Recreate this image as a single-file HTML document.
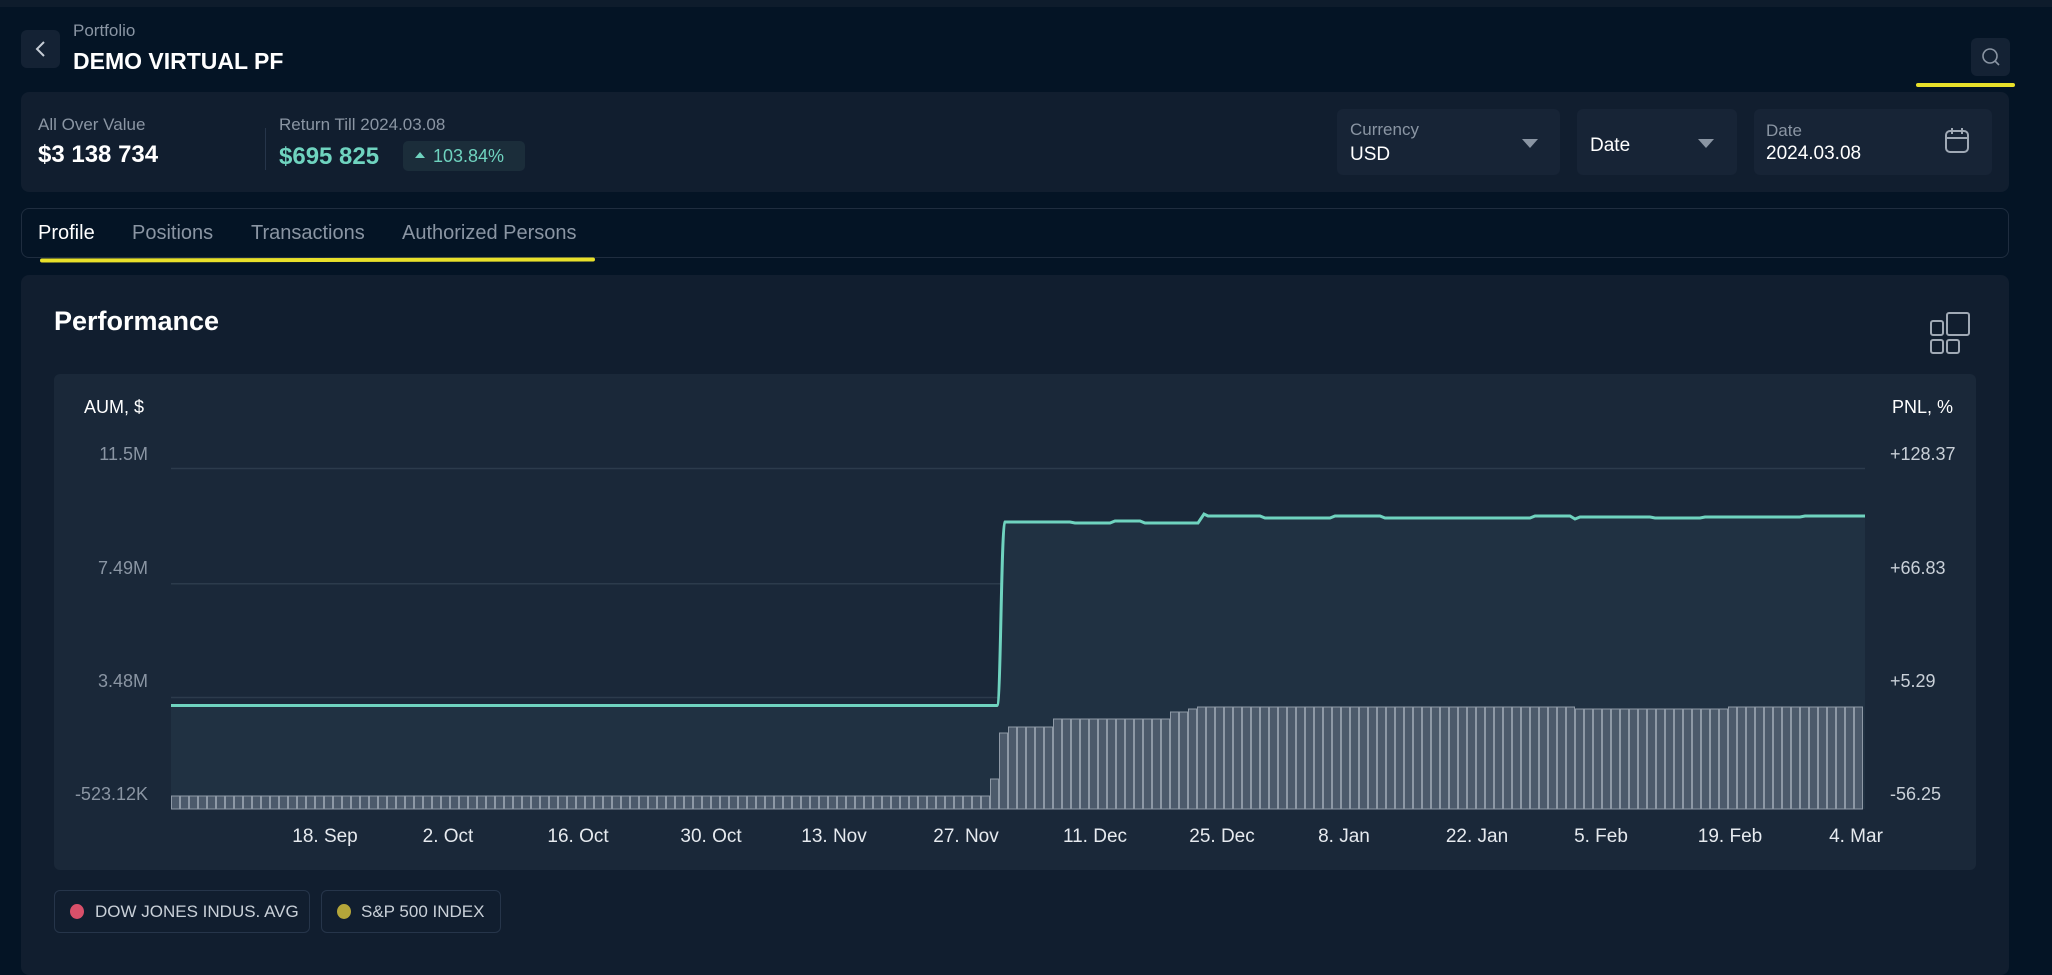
<!DOCTYPE html>
<html><head><meta charset="utf-8"><style>
*{margin:0;padding:0;box-sizing:border-box}
body{width:2052px;height:948px;background:#041425;font-family:"Liberation Sans",sans-serif;position:relative;overflow:hidden;color:#fff}
.a{position:absolute}
.g{color:#8a95a3}
.box{background:#111e2f;border-radius:8px}
.inp{background:#172436;border-radius:6px}
</style></head><body>
<div class="a" style="left:0;top:0;width:2052px;height:7px;background:#0e1c2c"></div>
<div class="a" style="left:21px;top:30px;width:39px;height:38px;background:#142234;border-radius:6px"></div>
<svg class="a" style="left:21px;top:30px" width="39" height="38"><path d="M23 12 L16 19 L23 26" stroke="#c5ccd5" stroke-width="2" fill="none"/></svg>
<div class="a g" style="left:73px;top:21px;font-size:17px">Portfolio</div>
<div class="a" style="left:73px;top:48px;font-size:23px;font-weight:bold">DEMO VIRTUAL PF</div>
<div class="a" style="left:1971px;top:38px;width:39px;height:38px;background:#142234;border-radius:6px"></div>
<svg class="a" style="left:1971px;top:38px" width="39" height="38"><circle cx="19" cy="18" r="7" stroke="#8a95a3" stroke-width="1.6" fill="none"/><path d="M24 23 L28 27" stroke="#8a95a3" stroke-width="1.6"/></svg>
<div class="a" style="left:1916px;top:83px;width:99px;height:4px;background:#e8e02a;border-radius:2px"></div>

<div class="a box" style="left:21px;top:92px;width:1988px;height:100px"></div>
<div class="a g" style="left:38px;top:115px;font-size:17px">All Over Value</div>
<div class="a" style="left:38px;top:141px;font-size:24px;font-weight:bold">$3 138 734</div>
<div class="a" style="left:265px;top:128px;width:1px;height:42px;background:#26354a"></div>
<div class="a g" style="left:279px;top:115px;font-size:17px">Return Till 2024.03.08</div>
<div class="a" style="left:279px;top:143px;font-size:24px;font-weight:bold;color:#6fd3bf">$695 825</div>
<div class="a" style="left:403px;top:141px;width:122px;height:30px;background:#1b2d3a;border-radius:5px;color:#6fd3bf;font-size:18px;padding:5px 0 0 30px">103.84%</div>
<div class="a" style="left:415px;top:152px;width:0;height:0;border-left:5px solid transparent;border-right:5px solid transparent;border-bottom:6px solid #6fd3bf"></div>

<div class="a inp" style="left:1337px;top:109px;width:223px;height:66px"></div>
<div class="a g" style="left:1350px;top:120px;font-size:17px">Currency</div>
<div class="a" style="left:1350px;top:144px;font-size:19px">USD</div>
<div class="a" style="left:1522px;top:139px;border-left:8px solid transparent;border-right:8px solid transparent;border-top:9px solid #8a95a3"></div>
<div class="a inp" style="left:1577px;top:109px;width:160px;height:66px"></div>
<div class="a" style="left:1590px;top:135px;font-size:19px">Date</div>
<div class="a" style="left:1698px;top:139px;border-left:8px solid transparent;border-right:8px solid transparent;border-top:9px solid #8a95a3"></div>
<div class="a inp" style="left:1754px;top:109px;width:238px;height:66px"></div>
<div class="a g" style="left:1766px;top:121px;font-size:17px">Date</div>
<div class="a" style="left:1766px;top:143px;font-size:19px">2024.03.08</div>
<svg class="a" style="left:1944px;top:126px" width="28" height="30"><rect x="2" y="5" width="22" height="21" rx="4" stroke="#a0a9b5" stroke-width="2" fill="none"/><path d="M2 12 H24 M8 2 V8 M18 2 V8" stroke="#a0a9b5" stroke-width="2"/></svg>

<div class="a" style="left:21px;top:208px;width:1988px;height:50px;border:1px solid #1f2d3f;border-radius:8px"></div>
<div class="a" style="left:38px;top:222px;font-size:20px">Profile</div>
<div class="a g" style="left:132px;top:222px;font-size:20px">Positions</div>
<div class="a g" style="left:251px;top:222px;font-size:20px">Transactions</div>
<div class="a g" style="left:402px;top:222px;font-size:20px">Authorized Persons</div>
<div class="a" style="left:40px;top:258px;width:555px;height:4px;background:#e8e02a;border-radius:2px;transform:rotate(-0.1deg)"></div>

<div class="a box" style="left:21px;top:275px;width:1988px;height:700px"></div>
<div class="a" style="left:54px;top:306px;font-size:27px;font-weight:bold">Performance</div>
<svg class="a" style="left:1929px;top:311px" width="44" height="44"><rect x="2" y="10" width="12" height="14" rx="2" stroke="#a0a9b5" stroke-width="2" fill="none"/><rect x="18" y="2" width="22" height="22" rx="2" stroke="#a0a9b5" stroke-width="2" fill="none"/><rect x="2" y="29" width="12" height="13" rx="2" stroke="#a0a9b5" stroke-width="2" fill="none"/><rect x="18" y="29" width="12" height="13" rx="2" stroke="#a0a9b5" stroke-width="2" fill="none"/></svg>

<div class="a" style="left:54px;top:374px;width:1922px;height:496px;background:#1a2839;border-radius:6px"></div>
<svg class="a" style="left:0;top:0" width="2052" height="948" font-family="Liberation Sans, sans-serif">
<g stroke="#2c3b4c" stroke-width="1.5"><path d="M171 468.5H1865M171 583.7H1865M171 697.5H1865"/></g>
<path d="M171 705.5H997C1001 705 1001 525 1005 522H1070L1075 523H1110L1115 521H1140L1145 523H1198L1204 514L1208 516H1260L1265 518H1330L1335 516H1380L1385 518H1530L1535 516H1570L1575 519L1580 517H1650L1655 518H1700L1705 517H1800L1805 516H1865V809H171Z" fill="#203142"/>
<g id="bars" fill="#4c5a6b" stroke="#8e99a6" stroke-width="1"></g>
<path d="M171 705.5H997C1001 705 1001 525 1005 522H1070L1075 523H1110L1115 521H1140L1145 523H1198L1204 514L1208 516H1260L1265 518H1330L1335 516H1380L1385 518H1530L1535 516H1570L1575 519L1580 517H1650L1655 518H1700L1705 517H1800L1805 516H1865" fill="none" stroke="#6fd3bf" stroke-width="3"/>
<g fill="#8a95a3" font-size="18" text-anchor="end"><text x="148" y="460">11.5M</text><text x="148" y="574">7.49M</text><text x="148" y="687">3.48M</text><text x="148" y="800">-523.12K</text></g>
<g fill="#c9d0d8" font-size="18"><text x="1890" y="460">+128.37</text><text x="1890" y="574">+66.83</text><text x="1890" y="687">+5.29</text><text x="1890" y="800">-56.25</text></g>
<text x="84" y="413" fill="#fff" font-size="18">AUM, $</text>
<text x="1953" y="413" fill="#fff" font-size="18" text-anchor="end">PNL, %</text>
<g fill="#e6eaef" font-size="19" text-anchor="middle"><text x="325" y="842">18. Sep</text><text x="448" y="842">2. Oct</text><text x="578" y="842">16. Oct</text><text x="711" y="842">30. Oct</text><text x="834" y="842">13. Nov</text><text x="966" y="842">27. Nov</text><text x="1095" y="842">11. Dec</text><text x="1222" y="842">25. Dec</text><text x="1344" y="842">8. Jan</text><text x="1477" y="842">22. Jan</text><text x="1601" y="842">5. Feb</text><text x="1730" y="842">19. Feb</text><text x="1856" y="842">4. Mar</text></g>
</svg>
<div class="a" style="left:54px;top:890px;width:256px;height:43px;border:1px solid #26354a;border-radius:6px;font-size:17px;color:#c9d0d8;padding:11px 0 0 40px">DOW JONES INDUS. AVG</div>
<div class="a" style="left:70px;top:904px;width:14px;height:15px;border-radius:50%;background:#d9506a"></div>
<div class="a" style="left:321px;top:890px;width:180px;height:43px;border:1px solid #26354a;border-radius:6px;font-size:17px;color:#c9d0d8;padding:11px 0 0 39px">S&amp;P 500 INDEX</div>
<div class="a" style="left:337px;top:904px;width:14px;height:15px;border-radius:50%;background:#b5a63a"></div>
<script>
var g=document.getElementById('bars'),s='';
for(var x=171;x+9<=1866;x+=9){var t;
if(x<987)t=796;else if(x<996)t=779;else if(x<1005)t=733;else if(x<1053)t=727;else if(x<1170)t=719;else if(x<1188)t=712;else if(x<1197)t=709;else if(x>1570&&x<1720)t=709;else t=707;
s+='<rect x="'+(x+0.5)+'" y="'+t+'" width="8" height="'+(809-t)+'"/>';}
g.innerHTML=s;
</script>
</body></html>
